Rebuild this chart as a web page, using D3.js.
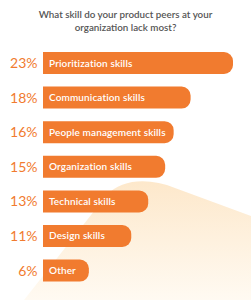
<!DOCTYPE html>
<html lang="en">
<head>
    <meta charset="UTF-8">
    <title>Skills</title>
    <script src="https://d3js.org/d3.v7.min.js"></script>
    <style>
        body { margin: 0; background: #fff; }
    </style>
</head>
<body>
<div id="chart"></div>

<script type=text/javascript>
    var width = 251;
    var height = 300;

    var skills = ["Prioritization skills", "Communication skills", "People management skills",
        "Organization skills", "Technical skills", "Design skills", "Other"];
    var shares = [23, 18, 16, 15, 13, 11, 6];
    var titleLines = ["What skill do your product peers at your", "organization lack most?"];

    var orange = "#f17b2f";

    var svg = d3.select("#chart")
        .append("svg")
        .attr("width", width)
        .attr("height", height);

    // pale backdrop shape
    var defs = svg.append("defs");
    var grad = defs.append("linearGradient")
        .attr("id", "bg")
        .attr("x1", 0).attr("y1", 0).attr("x2", 0).attr("y2", 1);
    grad.append("stop").attr("offset", "0%").attr("stop-color", "#fde8cb");
    grad.append("stop").attr("offset", "100%").attr("stop-color", "#fffaf2");

    svg.append("path")
        .attr("d", "M24,300 L106,196 C122,178 150,178 175,188 L251,216 L251,300 Z")
        .attr("fill", "url(#bg)");

    var x = d3.scaleLinear()
        .domain([0, 23])
        .range([38, 233]);

    var y = d3.scaleBand()
        .domain(skills)
        .range([52, 281.6])
        .paddingInner(0.364)
        .paddingOuter(0);

    var barLeft = 43;
    var r = 9;

    function barPath(x0, y0, x1, h) {
        var p = d3.path();
        p.moveTo(x0, y0);
        p.lineTo(x1 - r, y0);
        p.arcTo(x1, y0, x1, y0 + r, r);
        p.lineTo(x1, y0 + h - r);
        p.arcTo(x1, y0 + h, x1 - r, y0 + h, r);
        p.lineTo(x0, y0 + h);
        p.closePath();
        return p.toString();
    }

    svg.append("g")
        .selectAll("text")
        .data(titleLines)
        .enter()
        .append("text")
        .attr("x", 125.5)
        .attr("y", function (d, i) { return 18 + i * 13; })
        .attr("text-anchor", "middle")
        .attr("fill", "#555")
        .attr("font-family", "Lato, sans-serif")
        .attr("font-weight", 600)
        .attr("font-size", "9.8px")
        .text(function (d) { return d; });

    var rows = svg.append("g")
        .selectAll("g")
        .data(skills)
        .enter()
        .append("g");

    rows.append("path")
        .attr("d", function (d, i) { return barPath(barLeft, y(d), x(shares[i]), y.bandwidth()); })
        .attr("fill", orange);

    rows.append("text")
        .attr("x", 37.5)
        .attr("y", function (d) { return y(d) + y.bandwidth() / 2 + 5; })
        .attr("text-anchor", "end")
        .attr("fill", orange)
        .attr("font-family", "Lato, sans-serif")
        .attr("font-size", "14px")
        .text(function (d, i) { return shares[i] + "%"; });

    rows.append("text")
        .attr("x", 49)
        .attr("y", function (d) { return y(d) + y.bandwidth() / 2 + 3.5; })
        .attr("fill", "#fff")
        .attr("font-family", "Lato, sans-serif")
        .attr("font-weight", 600)
        .attr("font-size", "10px")
        .attr("letter-spacing", "0.12px")
        .text(function (d) { return d; });
</script>
</body>
</html>
